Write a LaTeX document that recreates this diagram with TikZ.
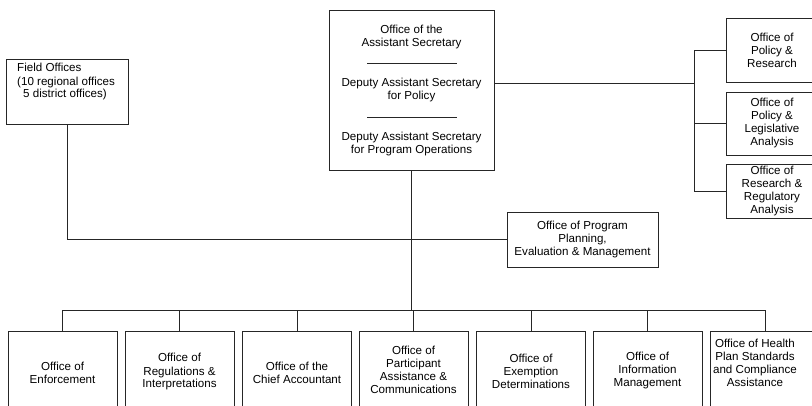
\documentclass[tikz,border=0pt]{standalone}
\usepackage{fontspec}
\setmainfont{Liberation Sans}
\begin{document}
\begin{tikzpicture}[x=1pt,y=-1pt,
  box/.style={draw=black!85, line width=0.65pt, inner sep=0pt},
  txt/.style={align=center, font=\fontsize{11.6}{13}\selectfont, inner sep=0pt},
  conn/.style={draw=black!85, line width=0.65pt}]
\useasboundingbox (0,0) rectangle (812,406);
\clip (0,0) rectangle (812,406);

% central office
\node[box, minimum width=165pt, minimum height=160pt] (ast) at (411.5,90) {};
\node[txt] (a1) at (411.5,37) {Office of the\\Assistant Secretary};
\node[txt] (a2) at (411.5,90) {Deputy Assistant Secretary\\for Policy};
\node[txt] (a3) at (411.5,144) {Deputy Assistant Secretary\\for Program Operations};
\draw[conn] (367,63) -- (457,63);
\draw[conn] (367,117) -- (457,117);

% field offices
\node[box, minimum width=122pt, minimum height=65pt] (fo) at (67,91.5) {};
\node[txt, align=left, anchor=west] (fot) at (17,82)
  {Field Offices\\(10 regional offices\\\hspace{6pt}5 district offices)};

% planning
\node[box, txt, minimum width=151pt, minimum height=55pt] (pl) at (582.5,239.5)
  {Office of Program\\Planning,\\Evaluation \& Management};

% right offices
\node[box, txt, minimum width=92pt, minimum height=64pt] (r1) at (772,50)
  {Office of\\Policy \&\\Research};
\node[box, txt, minimum width=92pt, minimum height=63pt] (r2) at (772,123.5)
  {Office of\\Policy \&\\Legislative\\Analysis};
\node[box, txt, minimum width=92pt, minimum height=54pt] (r3) at (772,191)
  {Office of\\Research \&\\Regulatory\\Analysis};

% bottom offices
\foreach \n/\x in {1/62.5,2/179.5,3/297,4/413.5,5/531,6/647.5,7/765}
  \node[box, minimum width=109pt, minimum height=99pt] (b\n) at (\x,380.5) {};
\node[txt] (t1) at (62.5,373) {Office of\\Enforcement};
\node[txt] (t2) at (179.5,372) {Office of\\Regulations \&\\Interpretations};
\node[txt] (t3) at (297,373) {Office of the\\Chief Accountant};
\node[txt] (t4) at (413.5,370) {Office of\\Participant\\Assistance \&\\Communications};
\node[txt] (t5) at (531,371) {Office of\\Exemption\\Determinations};
\node[txt] (t6) at (647.5,371) {Office of\\Information\\Management};
\node[txt] (t7) at (755,363) {Office of Health\\Plan Standards\\and Compliance\\Assistance};

% connectors
\coordinate (bus) at (415,310);
\coordinate (rj) at (694,83);
\draw[conn] (ast.south) -- (ast.south |- bus);
\draw[conn] (b1.north |- bus) -- (b7.north |- bus);
\foreach \n in {1,...,7}
  \draw[conn] (b\n.north) -- (b\n.north |- bus);
\draw[conn] (fo.south) |- (pl.west);
\draw[conn] (ast.east |- rj) -- (rj);
\draw[conn] (r1.west) -- (r1.west -| rj) -- (r3.west -| rj) -- (r3.west);
\draw[conn] (r2.west) -- (r2.west -| rj);
\end{tikzpicture}
\end{document}
